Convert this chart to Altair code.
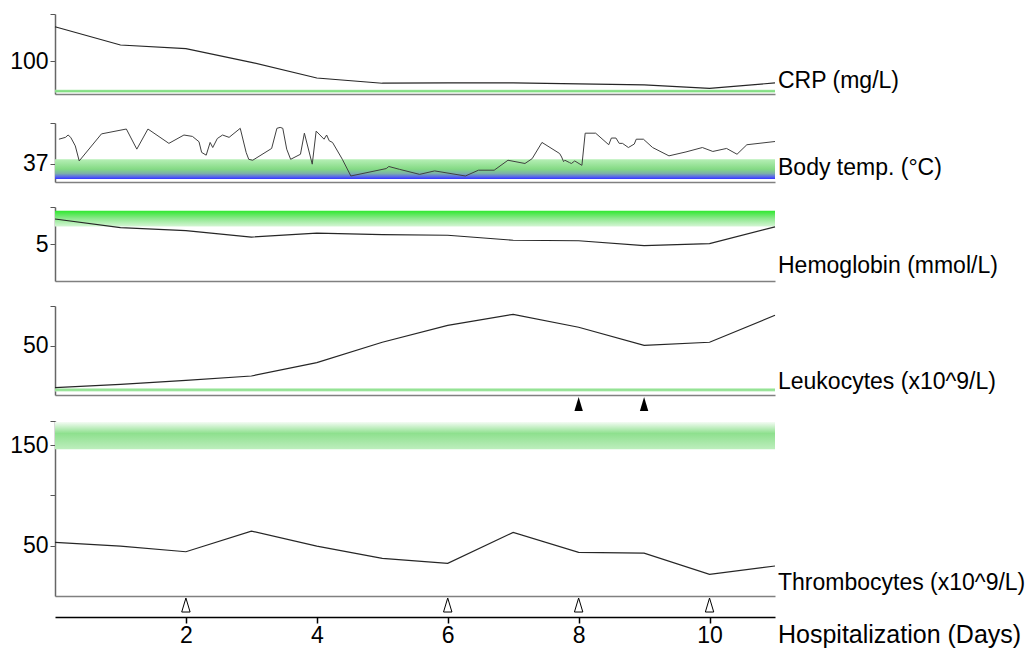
import altair as alt
import pandas as pd

# ---------------- data ----------------
days = list(range(12))
crp = [206, 150, 139, 97, 49, 33, 34, 34, 31, 28, 17, 34]
hemoglobin = [8.38, 7.22, 6.82, 5.94, 6.47, 6.28, 6.18, 5.51, 5.44, 4.77, 5.04, 7.31]
leukocytes = [7.5, 10.9, 15.0, 19.4, 33.0, 53.8, 71.1, 82.3, 69.1, 50.7, 53.8, 81.3]
thrombocytes = [53.3, 49.6, 44.0, 64.5, 49.6, 37.4, 32.5, 63.2, 43.4, 42.7, 21.5, 29.8]

temp_day = [0.06, 0.16, 0.20, 0.24, 0.31, 0.37, 0.71, 1.09, 1.25, 1.42,
            1.74, 1.97, 2.10, 2.20, 2.24, 2.31, 2.37, 2.41, 2.48, 2.56,
            2.66, 2.83, 2.92, 2.96, 3.02, 3.31, 3.39, 3.44, 3.48, 3.54,
            3.60, 3.75, 3.81, 3.93, 3.99, 4.11, 4.15, 4.19, 4.24, 4.39,
            4.52, 5.06, 5.10, 5.26, 5.57, 5.80, 6.27, 6.47, 6.71, 6.92,
            7.18, 7.29, 7.44, 7.71, 7.74, 7.77, 7.79, 7.86, 7.89, 7.94,
            8.05, 8.10, 8.26, 8.46, 8.50, 8.57, 8.62, 8.67, 8.76, 8.85,
            8.88, 8.99, 9.13, 9.38, 9.64, 9.89, 10.05, 10.26, 10.42, 10.57,
            11.0]
temp_val = [38.07, 38.15, 38.25, 38.15, 37.78, 37.13, 38.30, 38.51, 37.64, 38.51,
            37.89, 38.25, 38.19, 37.96, 37.50, 37.38, 37.93, 37.71, 38.10, 38.25,
            38.15, 38.54, 37.50, 37.20, 37.16, 37.67, 38.54, 38.58, 38.54, 37.64,
            37.20, 37.42, 38.33, 36.99, 38.42, 38.07, 38.25, 38.00, 37.93, 37.20,
            36.48, 36.80, 36.89, 36.77, 36.55, 36.70, 36.48, 36.73, 36.73, 37.16,
            37.02, 37.23, 37.93, 37.45, 37.30, 37.10, 37.16, 37.06, 37.02, 37.13,
            36.94, 38.33, 38.33, 37.83, 38.12, 38.12, 37.89, 37.89, 37.71, 37.86,
            38.07, 38.07, 37.71, 37.35, 37.52, 37.71, 37.54, 37.67, 37.42, 37.83,
            37.97]

black_triangle_days = [8, 9]
open_triangle_days = [2, 6, 8, 10]
x_tick_days = [2, 4, 6, 8, 10]

panel_labels = ["CRP (mg/L)", "Body temp. (°C)", "Hemoglobin (mmol/L)",
                "Leukocytes (x10^9/L)", "Thrombocytes (x10^9/L)"]
x_title = "Hospitalization (Days)"

# normal ranges (low, high)
crp_range = [4.5, 13]
temp_range = [36.35, 37.2]
hb_range = [7.35, 9.5]
leuko_range = [3.5, 6.9]
thrombo_range = [146, 173]

# ---------------- styling ----------------
W = 720
FONT = "Liberation Sans"
LABEL_SIZE = 23
X_DOMAIN = [0, 11]


def grad(stops):
    return {"gradient": "linear", "x1": 0, "y1": 0, "x2": 0, "y2": 1,
            "stops": [{"offset": o, "color": c} for o, c in stops]}


crp_band = grad([(0, "#a6e9a6"), (0.5, "#78da78"), (1, "#a6e9a6")])
light_band = grad([(0, "#bdefbd"), (0.5, "#88de88"), (1, "#bdefbd")])
temp_band = grad([(0, "#b6efb6"), (0.5, "#84da84"), (0.72, "#7bb0a8"),
                  (0.88, "#5a6ae8"), (1, "#3434ff")])
hb_band = grad([(0, "#2ee82e"), (0.5, "#8fe88f"), (1, "#d6f6d6")])
thrombo_band = grad([(0, "#f4fcf4"), (0.42, "#8ee08e"), (1, "#bdeebd")])


def xscale():
    return alt.Scale(domain=X_DOMAIN, nice=False, zero=False)


def panel(values, xs_days, y_domain, tick_vals, labeled, band, band_fill,
          label, height, line_color="#262626", line_width=1.2, label_dy=6):
    ys = alt.Scale(domain=y_domain, nice=False, zero=False)
    lab = ",".join(str(v) for v in labeled)
    yaxis = alt.Axis(values=tick_vals, title=None, grid=False,
                     labelExpr=f"indexof([{lab}], datum.value) >= 0 ? datum.label : ''")
    xaxis = alt.Axis(title=None, labels=False, ticks=False, grid=False,
                     domainColor="#808080", domainWidth=1.5)
    band_df = pd.DataFrame({"x0": [X_DOMAIN[0]], "x1": [X_DOMAIN[1]],
                            "lo": [band[0]], "hi": [band[1]]})
    band_layer = alt.Chart(band_df).mark_rect(fill=band_fill).encode(
        x=alt.X("x0:Q", scale=xscale(), axis=xaxis), x2="x1:Q",
        y=alt.Y("lo:Q", scale=ys, axis=yaxis), y2="hi:Q")
    line_df = pd.DataFrame({"day": xs_days, "val": values})
    line_layer = alt.Chart(line_df).mark_line(
        color=line_color, strokeWidth=line_width).encode(
        x=alt.X("day:Q", scale=xscale()), y=alt.Y("val:Q", scale=ys))
    text_layer = alt.Chart(pd.DataFrame({"t": [label]})).mark_text(
        align="left", baseline="alphabetic", fontSize=LABEL_SIZE, font=FONT,
        color="black").encode(
        x=alt.value(W + 3), y=alt.value(height - label_dy), text="t:N")
    return alt.layer(band_layer, line_layer, text_layer).properties(
        width=W, height=height)


TRI = "M-0.6,1L0,-1L0.6,1Z"

crp_p = panel(crp, days, [0, 245], [100, 245], [100], crp_range, crp_band,
              panel_labels[0], 80)
temp_p = panel(temp_val, temp_day, [36.22, 38.77], [37, 38, 38.77], [37],
               temp_range, temp_band, panel_labels[1], 59,
               line_color="#404040", line_width=1.0, label_dy=7)
hb_p = panel(hemoglobin, days, [0, 10], [5, 10], [5], hb_range, hb_band,
             panel_labels[2], 74, label_dy=8)
leuko_p = panel(leukocytes, days, [0, 90.8], [50, 90.8], [50], leuko_range,
                light_band, panel_labels[3], 89)
thrombo_p = panel(thrombocytes, days, [0, 174], [50, 100, 150, 174], [50, 150],
                  thrombo_range, thrombo_band, panel_labels[4], 175, label_dy=6)

blank_y = alt.Axis(labels=False, ticks=False, domain=False, grid=False, title=None)

black_tri = alt.Chart(pd.DataFrame({"day": black_triangle_days})).mark_point(
    shape=TRI, size=196, filled=True, color="black", opacity=1).encode(
    x=alt.X("day:Q", scale=xscale(), axis=None),
    y=alt.YDatum(0.64, scale=alt.Scale(domain=[0, 1]), axis=blank_y),
).properties(width=W, height=25)

open_tri = alt.Chart(pd.DataFrame({"day": open_triangle_days})).mark_point(
    shape=TRI, size=196, filled=False, fill="white", stroke="black",
    strokeWidth=1, opacity=1).encode(
    x=alt.X("day:Q", scale=xscale(),
            axis=alt.Axis(values=x_tick_days, title=None, grid=False,
                          domainColor="black", domainWidth=1.5,
                          tickColor="black", tickWidth=1.5, tickSize=6,
                          labelFontSize=LABEL_SIZE, labelFont=FONT,
                          labelColor="black", labelPadding=1, labelFlush=False)),
    y=alt.YDatum(0.57, scale=alt.Scale(domain=[0, 1]), axis=blank_y),
)
open_text = alt.Chart(pd.DataFrame({"t": [x_title]})).mark_text(
    align="left", baseline="alphabetic", fontSize=25, font=FONT,
    color="black").encode(x=alt.value(W + 3), y=alt.value(47), text="t:N")
open_p = alt.layer(open_tri, open_text).properties(width=W, height=21)

lower = alt.vconcat(leuko_p, black_tri, thrombo_p, open_p, spacing=0)
mid = alt.vconcat(temp_p, hb_p, lower, spacing=24)
chart = alt.vconcat(crp_p, mid, spacing=28).configure(
    padding={"left": 0, "top": 5, "right": 0, "bottom": 0}, font=FONT
).configure_view(stroke=None).configure_axisY(
    minExtent=47, maxExtent=47, labelFontSize=LABEL_SIZE, labelFont=FONT,
    labelColor="black", tickSize=5, tickColor="#555555", domainColor="#666666",
    domainWidth=1.5, labelPadding=2, grid=False
)

chart.save("out.html", embed_options={"renderer": "svg", "actions": False})
